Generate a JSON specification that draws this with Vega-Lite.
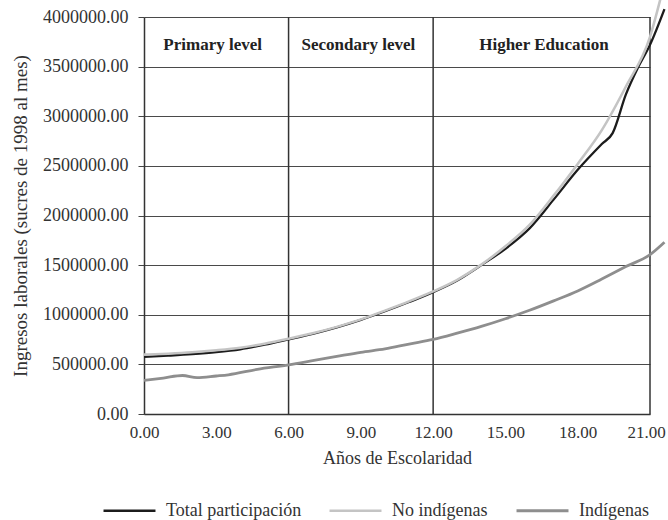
{
  "$schema": "https://vega.github.io/schema/vega-lite/v6.json",
  "width": 506,
  "height": 397,
  "autosize": {"type": "none"},
  "padding": {"left": 144, "top": 17, "right": 18, "bottom": 106},
  "background": "white",
  "config": {
    "font": "Liberation Serif",
    "view": {"stroke": null},
    "axis": {
      "labelFont": "Liberation Serif",
      "titleFont": "Liberation Serif",
      "labelFontSize": 18,
      "titleFontSize": 18,
      "titleFontWeight": "normal",
      "labelColor": "#333333",
      "titleColor": "#333333",
      "domainColor": "#333333",
      "domainWidth": 1.5,
      "tickColor": "#444444",
      "gridColor": "#4a4a4a",
      "gridWidth": 1.2,
      "gridOpacity": 1
    },
    "legend": {
      "labelFont": "Liberation Serif",
      "labelFontSize": 18,
      "labelColor": "#333333"
    }
  },
  "datasets": {
    "series": [
      {"grupo": "Indígenas", "anos": 0, "ingreso": 338000},
      {"grupo": "Indígenas", "anos": 0.8, "ingreso": 362000},
      {"grupo": "Indígenas", "anos": 1.6, "ingreso": 388000},
      {"grupo": "Indígenas", "anos": 2.2, "ingreso": 366000},
      {"grupo": "Indígenas", "anos": 3, "ingreso": 383000},
      {"grupo": "Indígenas", "anos": 3.5, "ingreso": 395000},
      {"grupo": "Indígenas", "anos": 4.7, "ingreso": 450000},
      {"grupo": "Indígenas", "anos": 6, "ingreso": 495000},
      {"grupo": "Indígenas", "anos": 7, "ingreso": 537000},
      {"grupo": "Indígenas", "anos": 8, "ingreso": 580000},
      {"grupo": "Indígenas", "anos": 9, "ingreso": 622000},
      {"grupo": "Indígenas", "anos": 10, "ingreso": 655000},
      {"grupo": "Indígenas", "anos": 11, "ingreso": 705000},
      {"grupo": "Indígenas", "anos": 12, "ingreso": 752000},
      {"grupo": "Indígenas", "anos": 13, "ingreso": 815000},
      {"grupo": "Indígenas", "anos": 14, "ingreso": 883000},
      {"grupo": "Indígenas", "anos": 15, "ingreso": 960000},
      {"grupo": "Indígenas", "anos": 16, "ingreso": 1045000},
      {"grupo": "Indígenas", "anos": 17, "ingreso": 1140000},
      {"grupo": "Indígenas", "anos": 18, "ingreso": 1240000},
      {"grupo": "Indígenas", "anos": 19, "ingreso": 1360000},
      {"grupo": "Indígenas", "anos": 20, "ingreso": 1485000},
      {"grupo": "Indígenas", "anos": 21, "ingreso": 1605000},
      {"grupo": "Indígenas", "anos": 21.6, "ingreso": 1730000},
      {"grupo": "Total participación", "anos": 0, "ingreso": 575000},
      {"grupo": "Total participación", "anos": 1, "ingreso": 588000},
      {"grupo": "Total participación", "anos": 2, "ingreso": 603000},
      {"grupo": "Total participación", "anos": 3, "ingreso": 623000},
      {"grupo": "Total participación", "anos": 4, "ingreso": 652000},
      {"grupo": "Total participación", "anos": 5, "ingreso": 698000},
      {"grupo": "Total participación", "anos": 6, "ingreso": 752000},
      {"grupo": "Total participación", "anos": 7, "ingreso": 808000},
      {"grupo": "Total participación", "anos": 8, "ingreso": 873000},
      {"grupo": "Total participación", "anos": 9, "ingreso": 948000},
      {"grupo": "Total participación", "anos": 10, "ingreso": 1035000},
      {"grupo": "Total participación", "anos": 11, "ingreso": 1128000},
      {"grupo": "Total participación", "anos": 12, "ingreso": 1228000},
      {"grupo": "Total participación", "anos": 13, "ingreso": 1345000},
      {"grupo": "Total participación", "anos": 14, "ingreso": 1500000},
      {"grupo": "Total participación", "anos": 15, "ingreso": 1665000},
      {"grupo": "Total participación", "anos": 16, "ingreso": 1870000},
      {"grupo": "Total participación", "anos": 17, "ingreso": 2160000},
      {"grupo": "Total participación", "anos": 18, "ingreso": 2460000},
      {"grupo": "Total participación", "anos": 19, "ingreso": 2720000},
      {"grupo": "Total participación", "anos": 19.45, "ingreso": 2830000},
      {"grupo": "Total participación", "anos": 20, "ingreso": 3220000},
      {"grupo": "Total participación", "anos": 20.5, "ingreso": 3490000},
      {"grupo": "Total participación", "anos": 21, "ingreso": 3720000},
      {"grupo": "Total participación", "anos": 21.6, "ingreso": 4080000},
      {"grupo": "No indígenas", "anos": 0, "ingreso": 598000},
      {"grupo": "No indígenas", "anos": 1, "ingreso": 608000},
      {"grupo": "No indígenas", "anos": 2, "ingreso": 622000},
      {"grupo": "No indígenas", "anos": 3, "ingreso": 642000},
      {"grupo": "No indígenas", "anos": 4, "ingreso": 668000},
      {"grupo": "No indígenas", "anos": 5, "ingreso": 708000},
      {"grupo": "No indígenas", "anos": 6, "ingreso": 758000},
      {"grupo": "No indígenas", "anos": 7, "ingreso": 813000},
      {"grupo": "No indígenas", "anos": 8, "ingreso": 878000},
      {"grupo": "No indígenas", "anos": 9, "ingreso": 953000},
      {"grupo": "No indígenas", "anos": 10, "ingreso": 1042000},
      {"grupo": "No indígenas", "anos": 11, "ingreso": 1135000},
      {"grupo": "No indígenas", "anos": 12, "ingreso": 1235000},
      {"grupo": "No indígenas", "anos": 13, "ingreso": 1352000},
      {"grupo": "No indígenas", "anos": 14, "ingreso": 1505000},
      {"grupo": "No indígenas", "anos": 15, "ingreso": 1690000},
      {"grupo": "No indígenas", "anos": 16, "ingreso": 1905000},
      {"grupo": "No indígenas", "anos": 17, "ingreso": 2200000},
      {"grupo": "No indígenas", "anos": 18, "ingreso": 2520000},
      {"grupo": "No indígenas", "anos": 19, "ingreso": 2860000},
      {"grupo": "No indígenas", "anos": 20, "ingreso": 3300000},
      {"grupo": "No indígenas", "anos": 21, "ingreso": 3800000},
      {"grupo": "No indígenas", "anos": 21.43, "ingreso": 4180000}
    ],
    "levels": [
      {"nivel": "Primary level", "anos": 2.85, "ingreso": 3720000},
      {"nivel": "Secondary level", "anos": 8.9, "ingreso": 3720000},
      {"nivel": "Higher Education", "anos": 16.6, "ingreso": 3720000}
    ],
    "bounds": [{"anos": 6}, {"anos": 12}, {"anos": 21}]
  },
  "layer": [
    {
      "data": {"name": "bounds"},
      "mark": {"type": "rule", "color": "#333333", "strokeWidth": 1.5},
      "encoding": {
        "x": {
          "field": "anos",
          "type": "quantitative",
          "scale": {"domain": [0, 21], "nice": false, "zero": false},
          "axis": {
            "title": "Años de Escolaridad",
            "values": [0, 3, 6, 9, 12, 15, 18, 21],
            "format": ".2f",
            "grid": false,
            "ticks": false,
            "labelFontSize": 17,
            "labelFlush": false,
            "labelOverlap": false,
            "labelOffset": {"condition": {"test": "datum.value == 21", "value": -4}, "value": 0},
            "labelPadding": 10,
            "titlePadding": 9
          }
        }
      }
    },
    {
      "data": {"name": "series"},
      "mark": {"type": "line", "interpolate": "monotone"},
      "encoding": {
        "x": {"field": "anos", "type": "quantitative"},
        "y": {
          "field": "ingreso",
          "type": "quantitative",
          "scale": {"domain": [0, 4000000], "nice": false},
          "axis": {
            "title": "Ingresos laborales (sucres de 1998 al mes)",
            "titleFontSize": 19,
            "values": [0, 500000, 1000000, 1500000, 2000000, 2500000, 3000000, 3500000, 4000000],
            "format": ".2f",
            "grid": true,
            "tickSize": 6,
            "labelPadding": 10,
            "labelFlush": false,
            "titlePadding": 12
          }
        },
        "color": {
          "field": "grupo",
          "type": "nominal",
          "scale": {
            "domain": ["Total participación", "No indígenas", "Indígenas"],
            "range": ["#1c1c1c", "#c4c4c4", "#8e8e8e"]
          },
          "legend": {
            "title": null,
            "orient": "none",
            "direction": "horizontal",
            "legendX": -42,
            "legendY": 466,
            "symbolType": "stroke",
            "symbolSize": 2700,
            "symbolStrokeWidth": 2.5,
            "labelOffset": 9,
            "columnPadding": 22
          }
        },
        "strokeWidth": {
          "field": "grupo",
          "type": "nominal",
          "scale": {
            "domain": ["Total participación", "No indígenas", "Indígenas"],
            "range": [2.3, 2.8, 2.3]
          },
          "legend": null
        }
      }
    },
    {
      "data": {"name": "levels"},
      "mark": {"type": "text", "fontWeight": "bold", "fontSize": 17, "color": "#222222", "baseline": "middle", "align": "center"},
      "encoding": {
        "x": {"field": "anos", "type": "quantitative"},
        "y": {"field": "ingreso", "type": "quantitative"},
        "text": {"field": "nivel"}
      }
    }
  ]
}
